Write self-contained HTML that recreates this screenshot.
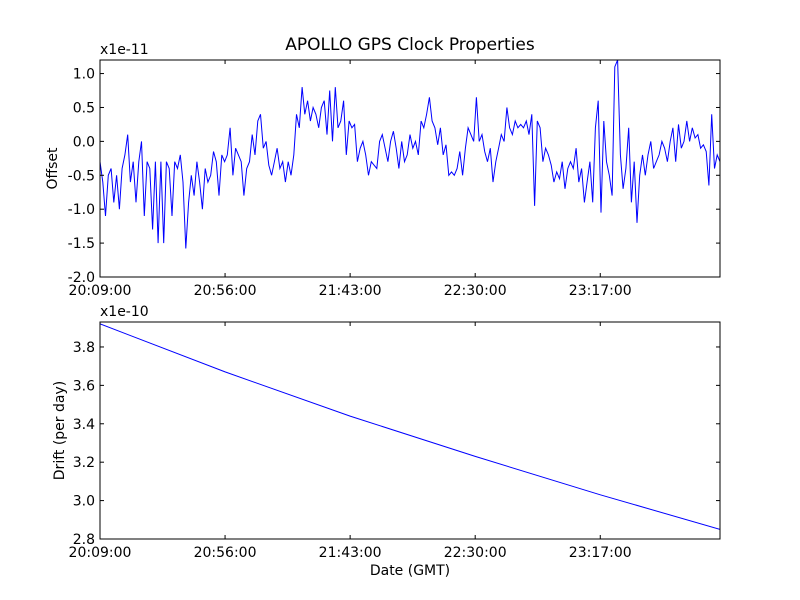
<!DOCTYPE html>
<html><head><meta charset="utf-8"><style>
body{margin:0;background:#fff;}
svg{display:block;font-family:"DejaVu Sans","Liberation Sans",sans-serif;}
</style></head><body>
<svg id="chart" width="800" height="600" viewBox="0 0 800 600">
<rect width="800" height="600" fill="#fff"/>
<text x="410" y="50" font-size="17" text-anchor="middle">APOLLO GPS Clock Properties</text>
<g id="top"></g><g id="bot"></g>
</svg>
<script>
const xTickLabels = ["20:09:00","20:56:00","21:43:00","22:30:00","23:17:00"];
const xTickMinutes = [0,47,94,141,188];
const offsetTicks = [1.0,0.5,0.0,-0.5,-1.0,-1.5,-2.0];
const driftTicks = [3.8,3.6,3.4,3.2,3.0,2.8];
const offsetValues = [-0.3,-0.6,-1.1,-0.5,-0.4,-0.9,-0.5,-1.0,-0.4,-0.2,0.1,-0.6,-0.3,-0.9,-0.3,0.0,-1.1,-0.3,-0.4,-1.3,-0.3,-1.5,-0.3,-1.5,-0.3,-0.4,-1.1,-0.3,-0.4,-0.2,-0.6,-1.58,-0.9,-0.5,-0.8,-0.3,-0.6,-1.0,-0.4,-0.6,-0.5,-0.15,-0.3,-0.8,-0.2,-0.3,-0.2,0.2,-0.5,-0.1,-0.2,-0.3,-0.8,-0.4,-0.3,0.1,-0.2,0.3,0.4,-0.1,0.0,-0.35,-0.5,-0.3,-0.1,-0.4,-0.3,-0.6,-0.3,-0.5,-0.2,0.4,0.2,0.8,0.4,0.6,0.3,0.5,0.4,0.2,0.5,0.6,0.1,0.75,0.0,0.8,0.2,0.3,0.6,-0.2,0.3,0.2,0.25,-0.3,-0.1,0.0,-0.2,-0.5,-0.3,-0.35,-0.4,0.0,0.1,-0.1,-0.3,0.0,0.15,-0.1,-0.4,0.0,-0.3,-0.2,0.1,-0.1,0.0,-0.2,0.3,0.2,0.4,0.65,0.3,0.2,-0.05,0.2,-0.2,-0.05,-0.5,-0.45,-0.5,-0.4,-0.15,-0.5,-0.1,0.2,0.1,0.0,0.65,0.0,0.1,-0.15,-0.3,-0.1,-0.6,-0.3,-0.1,0.1,0.0,0.5,0.2,0.1,0.3,0.2,0.25,0.2,0.3,0.1,0.4,-0.95,0.3,0.2,-0.3,-0.1,-0.2,-0.35,-0.6,-0.45,-0.55,-0.3,-0.7,-0.4,-0.3,-0.4,-0.1,-0.6,-0.4,-0.9,-0.6,-0.3,-0.9,0.2,0.6,-1.05,0.3,-0.3,-0.5,-0.8,1.1,1.2,-0.2,-0.7,-0.4,0.2,-0.9,-0.3,-1.2,-0.5,-0.2,-0.5,-0.2,0.0,-0.4,-0.3,-0.2,0.0,-0.1,-0.3,0.0,0.2,-0.3,0.25,-0.1,0.0,0.3,0.0,0.2,0.05,0.1,-0.1,-0.05,-0.15,-0.65,0.4,-0.4,-0.2,-0.3];
const driftMinutes = [0,47,94,141,188,233];
const driftValues = [3.92,3.67,3.44,3.23,3.03,2.85];
const totalMinutes = 233;

const NS="http://www.w3.org/2000/svg";
function mk(tag,attrs,parent){const e=document.createElementNS(NS,tag);for(const k in attrs)e.setAttribute(k,attrs[k]);parent.appendChild(e);return e;}
const L=100,R=720;
const xs=m=>L+(R-L)*m/totalMinutes;

function panel(g,top,bot,ymin,ymax,ticks,fmt,times,vals,ylabel,ylx,offLbl,name){
  const ys=v=>bot-(v-ymin)/(ymax-ymin)*(bot-top);
  const clip=mk('clipPath',{id:'c'+name},g);mk('rect',{x:L,y:top,width:R-L,height:bot-top},clip);
  let d='';times.forEach((t,i)=>{d+=(i?'L':'M')+xs(t).toFixed(1)+','+ys(vals[i]).toFixed(1);});
  const p=mk('path',{d:d,fill:'none',stroke:'#0000ff','stroke-width':1,'clip-path':'url(#c'+name+')'},g);
  
  
  const fr=mk('rect',{x:L,y:top,width:R-L,height:bot-top,fill:'none',stroke:'#000','stroke-width':1},g);
  
  
  ticks.forEach(v=>{const y=ys(v);
    mk('line',{x1:L,x2:L+4,y1:y,y2:y,stroke:'#000'},g);mk('line',{x1:R,x2:R-4,y1:y,y2:y,stroke:'#000'},g);
    const t=mk('text',{x:L-5,y:y+5,'font-size':14,'text-anchor':'end'},g);t.textContent=fmt(v);
    
    
  });
  xTickMinutes.forEach((m,i)=>{const x=xs(m);
    mk('line',{x1:x,x2:x,y1:bot,y2:bot-4,stroke:'#000'},g);mk('line',{x1:x,x2:x,y1:top,y2:top+4,stroke:'#000'},g);
    const t=mk('text',{x:x,y:bot+18,'font-size':14,'text-anchor':'middle'},g);t.textContent=xTickLabels[i];
    
    
  });
  const yl=mk('text',{x:ylx,y:(top+bot)/2,'font-size':14,'text-anchor':'middle',transform:'rotate(-90 '+ylx+' '+(top+bot)/2+')'},g);yl.textContent=ylabel;
  
  
  const ol=mk('text',{x:L,y:top-6,'font-size':14},g);ol.textContent=offLbl;
  
  
}
const offTimes=offsetValues.map((_,i)=>i*totalMinutes/(offsetValues.length-1));
panel(document.getElementById('top'),60,277,-2.0,1.2,offsetTicks,v=>v.toFixed(1),offTimes,offsetValues,'Offset',57,'x1e-11','offset');
panel(document.getElementById('bot'),322,539,2.8,3.93,driftTicks,v=>v.toFixed(1),driftMinutes,driftValues,'Drift (per day)',64,'x1e-10','drift');
const xl=mk('text',{x:410,y:575,'font-size':14,'text-anchor':'middle'},document.getElementById('chart'));
xl.textContent='Date (GMT)';


</script>
</body></html>
